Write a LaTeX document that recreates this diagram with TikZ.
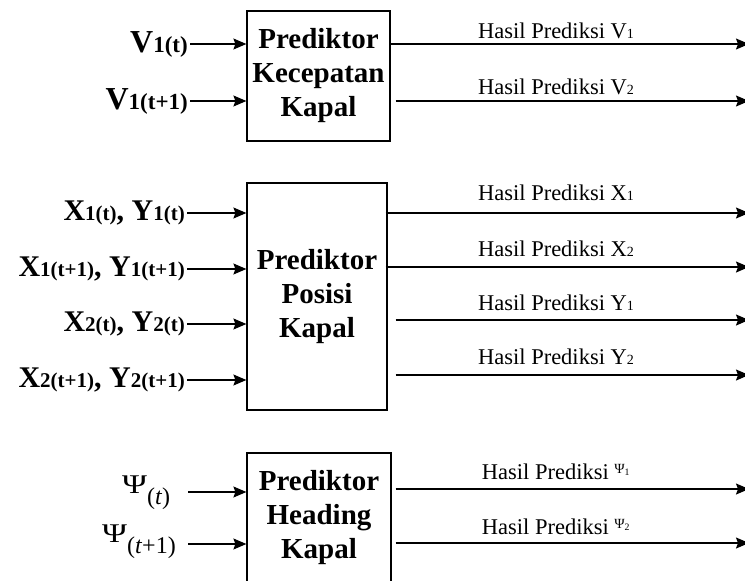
\documentclass[tikz,border=0pt]{standalone}
\usepackage{fontspec}
\usepackage{graphicx}
\setmainfont{Liberation Serif}
\usetikzlibrary{arrows.meta}
\begin{document}
\begin{tikzpicture}[x=1pt,y=-1pt,
  predbox/.style={draw, line width=1.2pt, align=center, inner sep=0pt,
    font=\fontsize{29}{34}\selectfont\bfseries},
  arr/.style={-{Stealth[length=13pt,width=11pt,inset=2pt]}, line width=1.3pt},
  inlab/.style={anchor=east, inner sep=2pt, font=\fontsize{30}{30}\selectfont\bfseries},
  outlab/.style={anchor=base, inner sep=0pt, font=\fontsize{22.5}{23}\selectfont},
  mathlab/.style={inner sep=0pt, anchor=base west, font=\fontsize{27}{30}\selectfont}]
\newcommand{\sm}[1]{{\fontsize{21}{21}\selectfont #1}}
\newcommand{\vsm}[1]{{\fontsize{23}{23}\selectfont #1}}
\newcommand{\om}[1]{{\fontsize{14}{14}\selectfont #1}}
\newcommand{\tpsi}[1]{\raisebox{6pt}{\fontsize{14}{14}\selectfont Ψ\textsubscript{#1}}}
\newcommand{\wpsi}{\scalebox{1.25}[1]{Ψ}}
\newcommand{\psub}[1]{\raisebox{-11pt}{\fontsize{24}{24}\selectfont #1}}
\clip (0,0) rectangle (745,581);
% boxes
\node[predbox, minimum width=143pt, minimum height=130pt] (b1) at (318.5,76) {Prediktor\\Kecepatan\\Kapal};
\node[predbox, minimum width=140pt, minimum height=227pt] (b2) at (317,296.5) {\rule{0pt}{3pt}Prediktor\\Posisi\\Kapal};
\node[predbox, minimum width=144pt, minimum height=130pt] (b3) at (319,518) {Prediktor\\Heading\\Kapal};
% inputs box 1
\node[inlab, font=\fontsize{32}{32}\selectfont\bfseries] (i1) at (190,44) {V\vsm{1(t)}};
\node[inlab, font=\fontsize{32}{32}\selectfont\bfseries] (i2) at (190,101) {V\vsm{1(t+1)}};
\draw[arr] (i1.east) -- (i1.east -| b1.west);
\draw[arr] (i2.east) -- (i2.east -| b1.west);
% inputs box 2
\node[inlab] (j1) at (187,213) {X\sm{1(t)}, Y\sm{1(t)}};
\node[inlab] (j2) at (187,269) {X\sm{1(t+1)}, Y\sm{1(t+1)}};
\node[inlab] (j3) at (187,324) {X\sm{2(t)}, Y\sm{2(t)}};
\node[inlab] (j4) at (187,380) {X\sm{2(t+1)}, Y\sm{2(t+1)}};
\foreach \n in {j1,j2,j3,j4} \draw[arr] (\n.east) -- (\n.east -| b2.west);
% inputs box 3
\node[mathlab] (k1) at (122,493) {\wpsi\psub{(\textit{t})}};
\node[mathlab] (k2) at (102,542) {\wpsi\psub{(\textit{t}+1)}};
\coordinate (s1) at (188,492);
\coordinate (s2) at (188,544);
\draw[arr] (s1) -- (s1 -| b3.west);
\draw[arr] (s2) -- (s2 -| b3.west);
% outputs
\coordinate (o1) at (749,44);
\coordinate (o2) at (749,101);
\coordinate (o3) at (749,213);
\coordinate (o4) at (749,267);
\coordinate (o5) at (749,320);
\coordinate (o6) at (749,375);
\coordinate (o7) at (749,489);
\coordinate (o8) at (749,543);
\draw[arr] (o1 -| b1.east) -- (o1);
\draw[arr] ([xshift=5pt]o2 -| b1.east) -- (o2);
\draw[arr] ([xshift=-2pt]o3 -| b2.east) -- (o3);
\draw[arr] ([xshift=-2pt]o4 -| b2.east) -- (o4);
\draw[arr] ([xshift=8pt]o5 -| b2.east) -- (o5);
\draw[arr] ([xshift=8pt]o6 -| b2.east) -- (o6);
\draw[arr] ([xshift=4pt]o7 -| b3.east) -- (o7);
\draw[arr] ([xshift=4pt]o8 -| b3.east) -- (o8);
\node[outlab] (t1) at (556,38) {Hasil Prediksi V\om{1}};
\node[outlab] (t2) at (556,94) {Hasil Prediksi V\om{2}};
\node[outlab] (t3) at (556,200) {Hasil Prediksi X\om{1}};
\node[outlab] (t4) at (556,256) {Hasil Prediksi X\om{2}};
\node[outlab] (t5) at (556,310) {Hasil Prediksi Y\om{1}};
\node[outlab] (t6) at (556,364) {Hasil Prediksi Y\om{2}};
\node[outlab] (t7) at (556,479) {Hasil Prediksi \tpsi{1}};
\node[outlab] (t8) at (556,534) {Hasil Prediksi \tpsi{2}};
\end{tikzpicture}
\end{document}
